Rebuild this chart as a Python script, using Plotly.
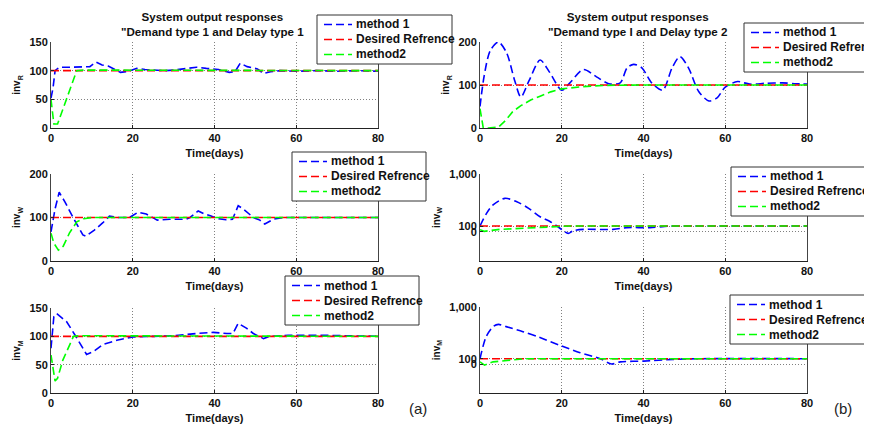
import plotly.graph_objects as go

# ---------------- data ----------------
days_ref = [0, 80]
ref_level = [100, 100]

# (a) Demand type 1 / Delay type 1
t_R1_m1 = [0, 0.5, 1, 2, 5, 8, 9.5, 11, 12.5, 14, 15.5, 17, 19, 21, 23, 25, 28, 30, 33, 35.6, 38, 41, 43.6, 45, 46.3, 48, 50.5, 52, 53.7, 56, 60, 65, 70, 75, 80]
R1_m1 = [52, 70, 100, 106, 106, 106, 107, 115, 110, 108, 102, 97, 99, 104, 102, 101, 100, 101, 103, 106, 104, 102, 97, 98, 113, 107, 103, 95, 98, 100, 99, 100, 99, 100, 99]
t_R1_m2 = [0, 0.7, 1.6, 4, 6.3, 8, 10, 12, 80]
R1_m2 = [50, 7, 7, 55, 100, 101, 101, 100, 100]

t_W1_m1 = [0, 1, 2, 3.4, 5.4, 7.8, 8.5, 10.6, 12.7, 14.3, 16.3, 19.2, 21.3, 23.3, 26, 29, 33, 34, 36, 37.6, 39, 41, 42.8, 44.4, 45.8, 47, 49.5, 51.1, 52.3, 54.4, 56.8, 60, 80]
W1_m1 = [67, 120, 158, 136, 100, 60, 57, 71, 88, 103, 100, 100, 112, 108, 94, 96, 96, 100, 115, 108, 104, 97, 95, 96, 127, 120, 100, 94, 85, 96, 100, 100, 100]
t_W1_m2 = [0, 0.7, 1.8, 3, 4.5, 6.3, 8, 10, 80]
W1_m2 = [64, 41, 25, 34, 64, 90, 97, 100, 100]

t_M1_m1 = [0, 0.7, 1.4, 3.8, 5.9, 7.9, 8.7, 10.4, 12.8, 16.1, 20.1, 25, 30, 35.6, 39.7, 43, 44.5, 45.8, 47.9, 49.5, 52, 53.6, 58, 65, 70, 80]
M1_m1 = [79, 135, 140, 126, 102, 79, 68, 73, 86, 93, 99, 100, 101, 105, 107, 105, 105, 123, 114, 105, 96, 100, 102, 102, 101, 100]
t_M1_m2 = [0, 1, 1.6, 2.9, 5.5, 7, 80]
M1_m2 = [67, 21, 26, 58, 100, 101, 100]

# (b) Demand type I / Delay type 2
t_R2_m1 = [0, 1, 2.5, 4.5, 6.5, 8.5, 10, 12, 14.7, 17, 20, 22, 25.3, 28.5, 31.5, 34.3, 36, 37.6, 39.6, 42, 44.7, 47, 48.9, 51, 53.5, 56, 58, 60, 63, 66, 70, 74, 77, 80]
R2_m1 = [50, 120, 180, 200, 175, 110, 72, 110, 158, 130, 88, 105, 136, 119, 103, 105, 140, 148, 140, 105, 88, 140, 166, 140, 85, 63, 70, 95, 108, 102, 104, 105, 103, 102]
t_R2_m2 = [0, 0.8, 2, 4.5, 6.3, 8, 10, 12.4, 14.7, 17.3, 20, 25, 30, 35, 40, 80]
R2_m2 = [45, 0, 0, 2, 18, 38, 52, 65, 74, 84, 91, 96, 99, 100, 100, 100]

t_W2_m1 = [0, 1.6, 3.2, 6.1, 9, 11.9, 14.7, 17.2, 18.8, 20.4, 21.6, 22.8, 25.3, 32.6, 35.9, 41.6, 46, 50, 80]
W2_m1 = [100, 175, 254, 340, 293, 219, 151, 121, 100, 81, 72, 81, 86, 86, 93, 93, 99, 100, 100]
t_W2_m2 = [0, 1, 4.8, 9.7, 17, 22, 80]
W2_m2 = [85, 79, 86, 90, 96, 100, 100]

t_M2_m1 = [0, 1.5, 3.2, 4.5, 6.4, 10.5, 14.5, 20, 24.5, 29.4, 32.2, 34.3, 40, 47.3, 53.7, 80]
M2_m1 = [100, 266, 417, 462, 417, 333, 259, 176, 131, 100, 79, 87, 90, 97, 100, 100]
t_M2_m2 = [0, 1.1, 3.2, 7.3, 11, 80]
M2_m2 = [87, 75, 87, 94, 100, 100]

x_ticks = [0, 20, 40, 60, 80]
legend_names = ["method 1", "Desired Refrence", "method2"]

# ---------------- figure ----------------
OFF = 8                      # page body margin
W, H = 872, 425 - OFF
FONT = "Liberation Sans"
BLUE, RED, GREEN = "#0000ff", "#ff0000", "#00ff00"
DASH = "8px,4px"
GRID = dict(showgrid=True, gridcolor="#808080", griddash="1px,2px", gridwidth=1)


def fx(px):
    return (px - OFF) / W


def fy(py):
    return 1 - (py - OFF) / H


panels = [
    dict(xd=(51, 378), yd=(42, 128), m1=(t_R1_m1, R1_m1), m2=(t_R1_m2, R1_m2), lab="inv<sub>R</sub>",
         ycfg=dict(range=[0, 150], tickvals=[0, 50, 100, 150]), leg=(317, 15, 452), shape="linear"),
    dict(xd=(480, 807), yd=(42, 128), m1=(t_R2_m1, R2_m1), m2=(t_R2_m2, R2_m2), lab="inv<sub>R</sub>",
         ycfg=dict(range=[0, 200], tickvals=[0, 100, 200]), leg=(744, 23, 890), shape="spline"),
    dict(xd=(51, 378), yd=(174, 261), m1=(t_W1_m1, W1_m1), m2=(t_W1_m2, W1_m2), lab="inv<sub>W</sub>",
         ycfg=dict(range=[0, 200], tickvals=[0, 100, 200]), leg=(292, 152, 426), shape="linear"),
    dict(xd=(480, 807), yd=(174, 261), m1=(t_W2_m1, W2_m1), m2=(t_W2_m2, W2_m2), lab="inv<sub>W</sub>",
         ycfg=dict(type="log", range=[1.327, 3], tickvals=[76.7, 100, 1000], ticktext=["0", "100", "1,000"]),
         leg=(731, 167, 866), shape="spline"),
    dict(xd=(51, 378), yd=(308, 393), m1=(t_M1_m1, M1_m1), m2=(t_M1_m2, M1_m2), lab="inv<sub>M</sub>",
         ycfg=dict(range=[0, 150], tickvals=[0, 50, 100, 150]), leg=(285, 276, 419), shape="linear"),
    dict(xd=(480, 807), yd=(307, 393), m1=(t_M2_m1, M2_m1), m2=(t_M2_m2, M2_m2), lab="inv<sub>M</sub>",
         ycfg=dict(type="log", range=[1.337, 3], tickvals=[79, 100, 1000], ticktext=["0", "100", "1,000"]),
         leg=(730, 295, 869), shape="spline"),
]

fig = go.Figure()
layout = dict(
    width=W, height=H,
    margin=dict(l=0, r=0, t=0, b=0, autoexpand=False),
    paper_bgcolor="white", plot_bgcolor="white",
    font=dict(family=FONT, size=11, color="#111", weight="bold"),
    showlegend=False,
    annotations=[], shapes=[],
)

item_dy = [9.5, 24.5, 39.5]
colors = [BLUE, RED, GREEN]

for i, p in enumerate(panels):
    n = i + 1
    xa = "x" if n == 1 else f"x{n}"
    ya = "y" if n == 1 else f"y{n}"
    series = [
        (p["m1"][0], p["m1"][1], BLUE, legend_names[0], p["shape"]),
        (days_ref, ref_level, RED, legend_names[1], "linear"),
        (p["m2"][0], p["m2"][1], GREEN, legend_names[2], "linear"),
    ]
    for tx, vy, col, nm, shp in series:
        fig.add_trace(go.Scatter(
            x=tx, y=vy, mode="lines", name=nm, xaxis=xa, yaxis=ya,
            line=dict(color=col, width=1.6, dash=DASH, shape=shp,
                      smoothing=0.8 if shp == "spline" else None),
        ))
    axkey = "xaxis" if n == 1 else f"xaxis{n}"
    aykey = "yaxis" if n == 1 else f"yaxis{n}"
    layout[axkey] = dict(
        domain=[fx(p["xd"][0]), fx(p["xd"][1])], anchor=ya, range=[0, 80], tickvals=x_ticks,
        showline=True, linecolor="#222", linewidth=1, zeroline=False,
        ticks="inside", ticklen=3, tickcolor="#222",
        tickfont=dict(size=11, weight="bold"),
        title=dict(text="Time(days)", font=dict(size=11, weight="bold"), standoff=6),
        **GRID,
    )
    ycfg = dict(
        domain=[fy(p["yd"][1]), fy(p["yd"][0])], anchor=xa,
        showline=True, linecolor="#444", linewidth=1, mirror=True, zeroline=False,
        ticks="inside", ticklen=3, tickcolor="#222",
        tickfont=dict(size=11, weight="bold"),
        title=dict(text=p["lab"], font=dict(size=10, weight="bold"), standoff=6),
        **GRID,
    )
    ycfg.update(p["ycfg"])
    layout[aykey] = ycfg

    # legend box drawn with shapes + text
    lx, ly, rx = p["leg"]
    layout["shapes"].append(dict(
        type="rect", xref="paper", yref="paper",
        x0=fx(lx), x1=fx(rx), y0=fy(ly + 49), y1=fy(ly),
        line=dict(color="#333", width=1), fillcolor="white", layer="above",
    ))
    for k in range(3):
        yy = fy(ly + item_dy[k])
        layout["shapes"].append(dict(
            type="line", xref="paper", yref="paper",
            x0=fx(lx + 7), x1=fx(lx + 35), y0=yy, y1=yy,
            line=dict(color=colors[k], width=1.6, dash=DASH), layer="above",
        ))
        layout["annotations"].append(dict(
            text=legend_names[k], x=fx(lx + 37), y=yy, xref="paper", yref="paper",
            xanchor="left", yanchor="middle", showarrow=False,
            font=dict(size=12, weight="bold", color="#111"),
        ))

titles = [
    ("System output responses<br>\"Demand type 1 and Delay type 1", 212),
    ("System output responses<br>\"Demand type I and Delay type 2", 637),
]
for txt, cx in titles:
    layout["annotations"].append(dict(
        text=txt, x=fx(cx), y=fy(8), xref="paper", yref="paper",
        xanchor="center", yanchor="top", showarrow=False,
        font=dict(size=11.6, weight="bold"),
    ))
for txt, cx in [("(a)", 418), ("(b)", 843)]:
    layout["annotations"].append(dict(
        text=txt, x=fx(cx), y=fy(408), xref="paper", yref="paper",
        xanchor="center", yanchor="middle", showarrow=False,
        font=dict(size=15, weight="normal", color="#222"),
    ))

fig.update_layout(**layout)
fig.write_html("out.html")
